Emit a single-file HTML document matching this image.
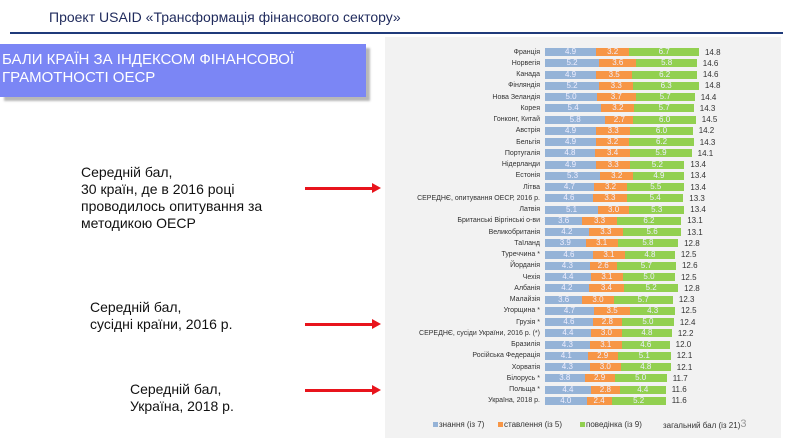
<!DOCTYPE html>
<html><head><meta charset="utf-8"><style>
*{margin:0;padding:0;box-sizing:border-box}
body{width:791px;height:438px;background:#fff;position:relative;overflow:hidden;font-family:"Liberation Sans",sans-serif}
.hdr{position:absolute;left:49px;top:9px;font-size:14px;color:#1f2a5c}
.line{position:absolute;left:10px;top:32px;width:773px;height:2px;background:#1f3a7a}
.panel{position:absolute;left:385px;top:37px;width:396px;height:401px;background:#f2f2f2}
.title{position:absolute;left:0;top:44px;width:366px;height:53px;background:#7b86f5;color:#fff;font-size:15px;line-height:18px;padding:7px 0 0 2px;box-shadow:4px 4px 2px #b8b8b8}
.txt{position:absolute;font-size:14px;line-height:17px;color:#111}
.arr{position:absolute;height:3px;background:#e8141c}
.arr:after{content:"";position:absolute;right:-8px;top:-4px;border-left:9px solid #e8141c;border-top:5.5px solid transparent;border-bottom:5.5px solid transparent}
.rows{position:absolute;left:385px;top:46.5px}
.r{height:11.25px;display:flex;align-items:center}
.l{width:160px;text-align:right;font-size:7px;color:#333;padding-right:5px;white-space:nowrap}
.b{height:8px;font-size:8px;color:#eef;text-align:center;line-height:8px}
.k{background:#95b3d7}.o{background:#f79646}.g{background:#92d050}
.t{font-size:8px;color:#333;margin-left:6px}
.leg{position:absolute;top:420px;font-size:8px;color:#333;white-space:nowrap}
.sq{display:inline-block;width:5px;height:5px;margin-right:1px}
</style></head><body>
<div class="hdr">Проект USAID «Трансформація фінансового сектору»</div>
<div class="line"></div>
<div class="panel"></div>
<div class="title">БАЛИ КРАЇН ЗА ІНДЕКСОМ ФІНАНСОВОЇ<br>ГРАМОТНОСТІ ОЕСР</div>
<div class="txt" style="left:81px;top:164px">Середній бал,<br>30 країн, де в 2016 році<br>проводилось опитування за<br>методикою ОЕСР</div>
<div class="txt" style="left:90px;top:299px">Середній бал,<br>сусідні країни, 2016 р.</div>
<div class="txt" style="left:130px;top:381px">Середній бал,<br>Україна, 2018 р.</div>
<div class="arr" style="left:305px;top:187px;width:68px"></div>
<div class="arr" style="left:305px;top:323px;width:68px"></div>
<div class="arr" style="left:305px;top:389px;width:68px"></div>
<div class="rows">
<div class="r"><div class="l">Франція</div><div class="b k" style="width:51px">4.9</div><div class="b o" style="width:33.3px">3.2</div><div class="b g" style="width:69.7px">6.7</div><div class="t">14.8</div></div>
<div class="r"><div class="l">Норвегія</div><div class="b k" style="width:54.1px">5.2</div><div class="b o" style="width:37.4px">3.6</div><div class="b g" style="width:60.3px">5.8</div><div class="t">14.6</div></div>
<div class="r"><div class="l">Канада</div><div class="b k" style="width:51px">4.9</div><div class="b o" style="width:36.4px">3.5</div><div class="b g" style="width:64.5px">6.2</div><div class="t">14.6</div></div>
<div class="r"><div class="l">Фінляндія</div><div class="b k" style="width:54.1px">5.2</div><div class="b o" style="width:34.3px">3.3</div><div class="b g" style="width:65.5px">6.3</div><div class="t">14.8</div></div>
<div class="r"><div class="l">Нова Зеландія</div><div class="b k" style="width:52px">5.0</div><div class="b o" style="width:38.5px">3.7</div><div class="b g" style="width:59.3px">5.7</div><div class="t">14.4</div></div>
<div class="r"><div class="l">Корея</div><div class="b k" style="width:56.2px">5.4</div><div class="b o" style="width:33.3px">3.2</div><div class="b g" style="width:59.3px">5.7</div><div class="t">14.3</div></div>
<div class="r"><div class="l">Гонконг, Китай</div><div class="b k" style="width:60.3px">5.8</div><div class="b o" style="width:28.1px">2.7</div><div class="b g" style="width:62.4px">6.0</div><div class="t">14.5</div></div>
<div class="r"><div class="l">Австрія</div><div class="b k" style="width:51px">4.9</div><div class="b o" style="width:34.3px">3.3</div><div class="b g" style="width:62.4px">6.0</div><div class="t">14.2</div></div>
<div class="r"><div class="l">Бельгія</div><div class="b k" style="width:51px">4.9</div><div class="b o" style="width:33.3px">3.2</div><div class="b g" style="width:64.5px">6.2</div><div class="t">14.3</div></div>
<div class="r"><div class="l">Португалія</div><div class="b k" style="width:49.9px">4.8</div><div class="b o" style="width:35.4px">3.4</div><div class="b g" style="width:61.4px">5.9</div><div class="t">14.1</div></div>
<div class="r"><div class="l">Нідерланди</div><div class="b k" style="width:51px">4.9</div><div class="b o" style="width:34.3px">3.3</div><div class="b g" style="width:54.1px">5.2</div><div class="t">13.4</div></div>
<div class="r"><div class="l">Естонія</div><div class="b k" style="width:55.1px">5.3</div><div class="b o" style="width:33.3px">3.2</div><div class="b g" style="width:51px">4.9</div><div class="t">13.4</div></div>
<div class="r"><div class="l">Літва</div><div class="b k" style="width:48.9px">4.7</div><div class="b o" style="width:33.3px">3.2</div><div class="b g" style="width:57.2px">5.5</div><div class="t">13.4</div></div>
<div class="r"><div class="l">СЕРЕДНЄ, опитування ОЕСР, 2016 р.</div><div class="b k" style="width:47.8px">4.6</div><div class="b o" style="width:34.3px">3.3</div><div class="b g" style="width:56.2px">5.4</div><div class="t">13.3</div></div>
<div class="r"><div class="l">Латвія</div><div class="b k" style="width:53px">5.1</div><div class="b o" style="width:31.2px">3.0</div><div class="b g" style="width:55.1px">5.3</div><div class="t">13.4</div></div>
<div class="r"><div class="l">Британські Віргінські о-ви</div><div class="b k" style="width:37.4px">3.6</div><div class="b o" style="width:34.3px">3.3</div><div class="b g" style="width:64.5px">6.2</div><div class="t">13.1</div></div>
<div class="r"><div class="l">Великобританія</div><div class="b k" style="width:43.7px">4.2</div><div class="b o" style="width:34.3px">3.3</div><div class="b g" style="width:58.2px">5.6</div><div class="t">13.1</div></div>
<div class="r"><div class="l">Таїланд</div><div class="b k" style="width:40.6px">3.9</div><div class="b o" style="width:32.2px">3.1</div><div class="b g" style="width:60.3px">5.8</div><div class="t">12.8</div></div>
<div class="r"><div class="l">Туреччина *</div><div class="b k" style="width:47.8px">4.6</div><div class="b o" style="width:32.2px">3.1</div><div class="b g" style="width:49.9px">4.8</div><div class="t">12.5</div></div>
<div class="r"><div class="l">Йорданія</div><div class="b k" style="width:44.7px">4.3</div><div class="b o" style="width:27px">2.6</div><div class="b g" style="width:59.3px">5.7</div><div class="t">12.6</div></div>
<div class="r"><div class="l">Чехія</div><div class="b k" style="width:45.8px">4.4</div><div class="b o" style="width:32.2px">3.1</div><div class="b g" style="width:52px">5.0</div><div class="t">12.5</div></div>
<div class="r"><div class="l">Албанія</div><div class="b k" style="width:43.7px">4.2</div><div class="b o" style="width:35.4px">3.4</div><div class="b g" style="width:54.1px">5.2</div><div class="t">12.8</div></div>
<div class="r"><div class="l">Малайзія</div><div class="b k" style="width:37.4px">3.6</div><div class="b o" style="width:31.2px">3.0</div><div class="b g" style="width:59.3px">5.7</div><div class="t">12.3</div></div>
<div class="r"><div class="l">Угорщина *</div><div class="b k" style="width:48.9px">4.7</div><div class="b o" style="width:36.4px">3.5</div><div class="b g" style="width:44.7px">4.3</div><div class="t">12.5</div></div>
<div class="r"><div class="l">Грузія *</div><div class="b k" style="width:47.8px">4.6</div><div class="b o" style="width:29.1px">2.8</div><div class="b g" style="width:52px">5.0</div><div class="t">12.4</div></div>
<div class="r"><div class="l">СЕРЕДНЄ, сусіди України, 2016 р. (*)</div><div class="b k" style="width:45.8px">4.4</div><div class="b o" style="width:31.2px">3.0</div><div class="b g" style="width:49.9px">4.8</div><div class="t">12.2</div></div>
<div class="r"><div class="l">Бразилія</div><div class="b k" style="width:44.7px">4.3</div><div class="b o" style="width:32.2px">3.1</div><div class="b g" style="width:47.8px">4.6</div><div class="t">12.0</div></div>
<div class="r"><div class="l">Російська Федерація</div><div class="b k" style="width:42.6px">4.1</div><div class="b o" style="width:30.2px">2.9</div><div class="b g" style="width:53px">5.1</div><div class="t">12.1</div></div>
<div class="r"><div class="l">Хорватія</div><div class="b k" style="width:44.7px">4.3</div><div class="b o" style="width:31.2px">3.0</div><div class="b g" style="width:49.9px">4.8</div><div class="t">12.1</div></div>
<div class="r"><div class="l">Білорусь *</div><div class="b k" style="width:39.5px">3.8</div><div class="b o" style="width:30.2px">2.9</div><div class="b g" style="width:52px">5.0</div><div class="t">11.7</div></div>
<div class="r"><div class="l">Польща *</div><div class="b k" style="width:45.8px">4.4</div><div class="b o" style="width:29.1px">2.8</div><div class="b g" style="width:45.8px">4.4</div><div class="t">11.6</div></div>
<div class="r"><div class="l">Україна, 2018 р.</div><div class="b k" style="width:41.6px">4.0</div><div class="b o" style="width:25px">2.4</div><div class="b g" style="width:54.1px">5.2</div><div class="t">11.6</div></div>
</div>
<div class="leg" style="left:433px"><span class="sq k"></span>знання (із 7)</div>
<div class="leg" style="left:498px"><span class="sq o"></span>ставлення (із 5)</div>
<div class="leg" style="left:580px"><span class="sq g"></span>поведінка (із 9)</div>
<div class="leg" style="left:663px;top:418px">загальний бал (із 21)<span style="font-size:11px;color:#999;vertical-align:1px">3</span></div>
</body></html>
